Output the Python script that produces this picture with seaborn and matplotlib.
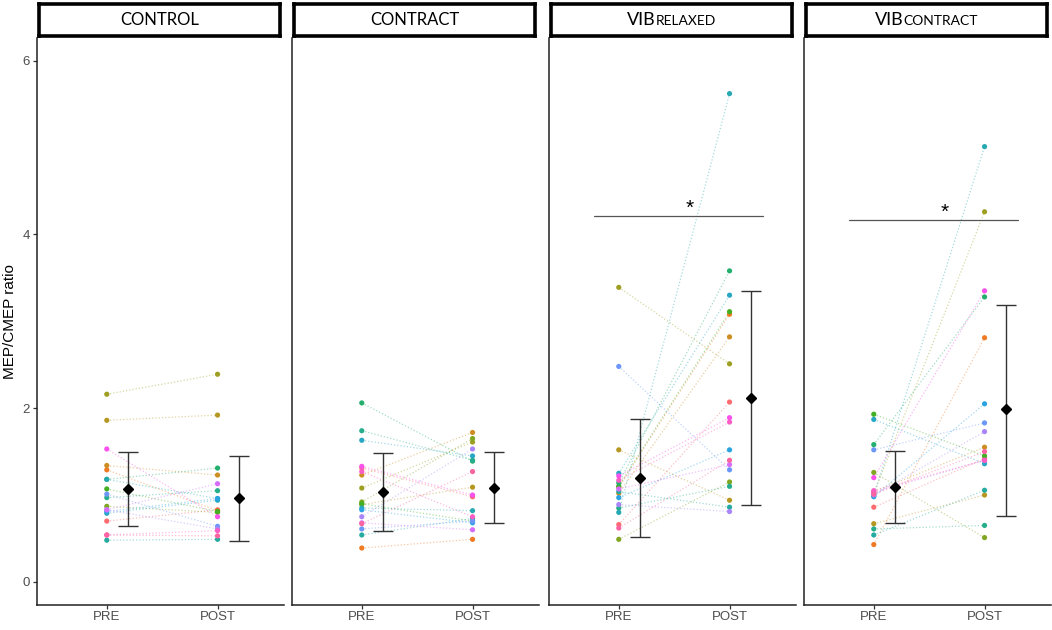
import numpy as np
import pandas as pd
import seaborn as sns
import matplotlib
matplotlib.use("Agg")
import matplotlib.pyplot as plt
from matplotlib.offsetbox import TextArea, HPacker, AnchoredOffsetbox

# ------------------------------
# Data (one value per subject, 19 subjects)
# ------------------------------
conditions = ["CONTROL", "CONTRACT", "VIBRELAXED", "VIBCONTRACT"]
times = ["PRE", "POST"]
subjects = list(range(19))

control_pre = [0.70, 1.29, 1.34, 1.86, 2.16, 0.87, 1.07, 1.18, 0.97, 0.48,
               1.18, 0.79, 0.81, 1.01, 0.83, 0.83, 1.53, 0.54, 0.54]
control_post = [0.83, 0.82, 1.23, 1.92, 2.39, 0.80, 0.81, 1.31, 1.05, 0.49,
                0.96, 0.94, 0.96, 0.64, 0.61, 1.13, 0.75, 0.59, 0.53]

contract_pre = [1.31, 0.39, 1.23, 0.89, 1.08, 0.92, 0.90, 2.06, 1.74, 0.54,
                0.85, 1.63, 0.83, 0.61, 0.75, 0.68, 1.33, 1.27, 0.67]
contract_post = [0.98, 0.49, 1.72, 1.09, 1.61, 1.65, 0.70, 1.39, 1.40, 0.73,
                 0.82, 1.45, 0.68, 0.70, 1.53, 0.60, 1.00, 0.75, 1.27]

vibrelax_pre = [0.66, 1.09, 1.02, 1.52, 3.39, 0.49, 1.10, 1.14, 0.85, 1.04,
                0.80, 1.25, 0.97, 2.48, 0.89, 1.07, 1.22, 1.17, 0.62]
vibrelax_post = [2.07, 3.08, 2.82, 0.94, 2.51, 1.15, 3.11, 3.58, 1.10, 0.86,
                 5.62, 3.30, 1.52, 1.29, 0.81, 1.35, 1.89, 1.84, 1.40]

vibcontract_pre = [0.86, 0.43, 1.04, 0.67, 1.02, 1.26, 1.93, 1.58, 0.61, 0.54,
                   0.99, 1.87, 0.98, 1.52, 1.00, 1.03, 1.20, 1.05, 1.01]
vibcontract_post = [1.42, 2.81, 1.55, 1.00, 4.26, 0.51, 1.45, 3.28, 0.65, 1.055,
                    5.01, 1.36, 2.05, 1.83, 1.73, 1.40, 3.35, 1.40, 1.50]

# group means and error bar ends (PRE, POST) per condition
mean_pre = [1.07, 1.04, 1.20, 1.09]
mean_post = [0.96, 1.085, 2.12, 1.99]
low_pre = [0.64, 0.59, 0.52, 0.68]
high_pre = [1.50, 1.48, 1.876, 1.51]
low_post = [0.47, 0.68, 0.89, 0.76]
high_post = [1.45, 1.49, 3.35, 3.19]

# significance bars: condition index, height
sig_conditions = [2, 3]
sig_heights = [4.21, 4.17]

pre_values = [control_pre, contract_pre, vibrelax_pre, vibcontract_pre]
post_values = [control_post, contract_post, vibrelax_post, vibcontract_post]

rows = []
for c, cond in enumerate(conditions):
    for s in subjects:
        rows.append([cond, s, "PRE", 0, pre_values[c][s]])
        rows.append([cond, s, "POST", 1, post_values[c][s]])
df = pd.DataFrame(rows, columns=["condition", "subject", "time", "x", "value"])

# ------------------------------
# Style
# ------------------------------
sns.set_theme(style="white")
plt.rcParams["font.family"] = ["Liberation Sans", "DejaVu Sans"]

palette = sns.husl_palette(len(subjects), h=0.03, s=0.95, l=0.64)

fig = plt.figure(figsize=(10.52, 6.3), dpi=100)

panel_lefts = [37, 292, 549, 804]
panel_w = 247
ax_bottom = (630 - 604.5) / 630
ax_height = (604.5 - 38) / 630
strip_bottom = 1 - 36 / 630
strip_height = 32 / 630

text_grey = "#4d4d4d"

for c, cond in enumerate(conditions):
    left = panel_lefts[c] / 1052
    ax = fig.add_axes([left, ax_bottom, panel_w / 1052, ax_height])
    d = df[df["condition"] == cond]

    sns.lineplot(
        data=d, x="x", y="value", hue="subject", palette=palette,
        estimator=None, linestyle=(0, (1, 1.6)), linewidth=0.9, alpha=0.42,
        legend=False, ax=ax
    )
    sns.scatterplot(
        data=d, x="x", y="value", hue="subject", palette=palette,
        s=14, linewidth=0, legend=False, ax=ax, zorder=3
    )

    ax.errorbar(
        [0.19, 1.19], [mean_pre[c], mean_post[c]],
        yerr=[[mean_pre[c] - low_pre[c], mean_post[c] - low_post[c]],
              [high_pre[c] - mean_pre[c], high_post[c] - mean_post[c]]],
        fmt="D", color="black", markersize=5, ecolor="#333333",
        elinewidth=1.0, capsize=7.5, capthick=1.0, zorder=4
    )

    if c in sig_conditions:
        h = sig_heights[sig_conditions.index(c)]
        ax.plot([-0.22, 1.30], [h, h], color="#555555", linewidth=0.9)
        ax.text(0.64, h - 0.02, "*", ha="center", va="bottom",
                fontsize=15, color="black")

    ax.set_xlim(-0.63, 1.6)
    ax.set_ylim(-0.26, 6.26)
    ax.set_xticks([0, 1])
    ax.set_xticklabels(times, fontsize=9.5, color=text_grey)
    ax.set_xlabel("")
    ax.tick_params(axis="x", length=3, width=0.9, color="#333333", pad=2,
                   bottom=True)
    if c == 0:
        ax.set_yticks([0, 2, 4, 6])
        ax.set_yticklabels(["0", "2", "4", "6"], fontsize=9.5, color=text_grey)
        ax.tick_params(axis="y", length=3, width=0.9, color="#333333", pad=2,
                       left=True)
        ax.set_ylabel("MEP/CMEP ratio", fontsize=11, color="black", labelpad=4)
    else:
        ax.set_yticks([])
        ax.set_ylabel("")

    for side in ["top", "right"]:
        ax.spines[side].set_visible(False)
    for side in ["left", "bottom"]:
        ax.spines[side].set_color("#222222")
        ax.spines[side].set_linewidth(1.1)

    # facet strip
    sax = fig.add_axes([left + 2 / 1052, strip_bottom, (panel_w - 6) / 1052,
                        strip_height])
    sax.set_xticks([])
    sax.set_yticks([])
    for sp in sax.spines.values():
        sp.set_color("black")
        sp.set_linewidth(2.6)
    if cond.startswith("VIB"):
        parts = [TextArea("VIB", textprops=dict(size=13, family="Lato",
                                                color="black")),
                 TextArea(cond[3:], textprops=dict(size=10, family="Lato",
                                                   color="black"))]
        box = HPacker(children=parts, align="baseline", pad=0, sep=0)
        sax.add_artist(AnchoredOffsetbox(loc="center", child=box,
                                         frameon=False, pad=0))
    else:
        sax.text(0.5, 0.5, cond, ha="center", va="center", fontsize=12,
                 family="Lato", color="black", transform=sax.transAxes)

fig.savefig("out.png", dpi=100)
